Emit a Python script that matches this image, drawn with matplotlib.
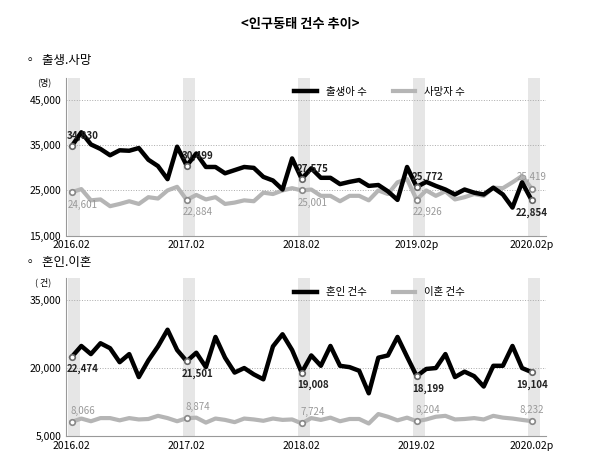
import matplotlib.pyplot as plt
import numpy as np

plt.rcParams["font.family"] = ["Noto Sans CJK KR", "Noto Sans CJK JP", "Noto Sans CJK SC", "DejaVu Sans"]

# data (2016.02 ~ 2020.02, monthly)
births = [34830, 37900, 35200, 34200, 32800, 33900, 33800, 34400, 31800, 30400, 27500, 34700,
          30499, 33200, 30200, 30200, 28800, 29500, 30200, 30000, 28000, 27200, 25200, 32100,
          27575, 29900, 27800, 27800, 26400, 26900, 27300, 26000, 26200, 24800, 22900, 30200,
          25772, 26900, 26000, 25200, 24100, 25200, 24500, 24100, 25600, 24100, 21200, 26800,
          22854]
deaths = [24601, 25300, 22800, 23000, 21500, 22000, 22600, 22000, 23500, 23200, 25000, 25800,
          22884, 24000, 23000, 23500, 22000, 22300, 22800, 22600, 24500, 24200, 25000, 25500,
          25001, 25200, 23800, 23800, 22600, 23800, 23800, 22800, 25000, 24200, 26800, 27500,
          22926, 25000, 23800, 24800, 23000, 23500, 24200, 23800, 25600, 25500, 26800, 28200,
          25419]
marriages = [22474, 24900, 23100, 25500, 24400, 21300, 23100, 18000, 21700, 24800, 28500, 24000,
             21501, 23400, 20200, 26900, 22300, 19000, 20000, 18600, 17500, 24800, 27500, 24000,
             19008, 22800, 20500, 24900, 20500, 20200, 19400, 14400, 22300, 22800, 26900, 22500,
             18199, 19800, 20000, 23100, 18000, 19200, 18200, 15900, 20500, 20500, 24900, 20000,
             19104]
divorces = [8066, 8800, 8200, 8900, 8900, 8400, 8900, 8600, 8700, 9400, 8900, 8200,
            8874, 9000, 7900, 8800, 8500, 8000, 8800, 8600, 8300, 8800, 8500, 8600,
            7724, 8900, 8500, 9000, 8200, 8700, 8700, 7700, 9800, 9200, 8400, 9000,
            8204, 8600, 9200, 9400, 8600, 8700, 8900, 8600, 9400, 9000, 8800, 8500,
            8232]
top_xticks = ["2016.02", "2017.02", "2018.02", "2019.02p", "2020.02p"]
bot_xticks = ["2016.02", "2017.02", "2018.02", "2019.02", "2020.02p"]
feb_idx = [0, 12, 24, 36, 48]


def draw(ax, s1, s2, names, unit, ylim, yticks, xticks, lab1_below, lab2_above):
    x = np.arange(len(s1))
    for i in feb_idx:
        ax.axvspan(i - 0.4, i + 0.9, color="#e6e6e6", zorder=0, lw=0)
    for t in yticks[1:]:
        ax.axhline(t, color="#aaaaaa", lw=0.7, ls=":", zorder=1)
    ax.plot(x, s2, color="#b5b5b5", lw=3, solid_joinstyle="round", zorder=2, label=names[1])
    ax.plot(x, s1, color="black", lw=3.2, solid_joinstyle="round", zorder=3, label=names[0])
    for i in feb_idx:
        ax.plot(i, s1[i], "o", ms=4, mfc="white", mec="#666666", mew=1.2, zorder=4)
        ax.plot(i, s2[i], "o", ms=4, mfc="white", mec="#888888", mew=1.2, zorder=4)
        off1 = -11 if lab1_below(i) else 5
        off2 = 6 if lab2_above(i) else -11
        dx = 0 if i == 48 else 8
        ax.annotate(f"{s1[i]:,}", (i, s1[i]), xytext=(dx, off1), textcoords="offset points",
                    ha="center", fontsize=7, fontweight="bold", color="#222222", zorder=5)
        ax.annotate(f"{s2[i]:,}", (i, s2[i]), xytext=(dx, off2), textcoords="offset points",
                    ha="center", fontsize=7, color="#999999", zorder=5)
    ax.set_xlim(-0.6, 49.5)
    ax.set_ylim(*ylim)
    ax.set_yticks(yticks)
    ax.set_yticklabels([f"{t:,}" for t in yticks], fontsize=7.5)
    ax.set_xticks(feb_idx)
    ax.set_xticklabels(xticks, fontsize=7.5)
    ax.tick_params(length=0)
    for side in ["top", "right"]:
        ax.spines[side].set_visible(False)
    ax.spines["left"].set_color("#999999")
    ax.spines["bottom"].set_color("#999999")
    ax.text(-0.03, 1.0, unit, transform=ax.transAxes, fontsize=6.5, ha="right", va="top")
    handles, labels = ax.get_legend_handles_labels()
    ax.legend(handles[::-1], labels[::-1], loc="upper right", bbox_to_anchor=(0.85, 1.0),
              ncol=2, frameon=False, fontsize=7.5, handlelength=2.2, columnspacing=2.5)


fig = plt.figure(figsize=(6, 4.71), dpi=100)
fig.text(0.5, 0.94, "<인구동태 건수 추이>", ha="center", fontsize=9.5, fontweight="bold")
fig.text(0.04, 0.865, "◦  출생.사망", fontsize=9)
fig.text(0.04, 0.435, "◦  혼인.이혼", fontsize=9)

ax1 = fig.add_axes([0.11, 0.5, 0.8, 0.335])
draw(ax1, births, deaths, ["출생아 수", "사망자 수"], "(명)", (15000, 50000),
     [15000, 25000, 35000, 45000], top_xticks,
     lambda i: i == 48, lambda i: i == 48)
ax2 = fig.add_axes([0.11, 0.075, 0.8, 0.335])
draw(ax2, marriages, divorces, ["혼인 건수", "이혼 건수"], "( 건)", (5000, 40000),
     [5000, 20000, 35000], bot_xticks,
     lambda i: True, lambda i: True)

plt.savefig("out.png", dpi=100)
